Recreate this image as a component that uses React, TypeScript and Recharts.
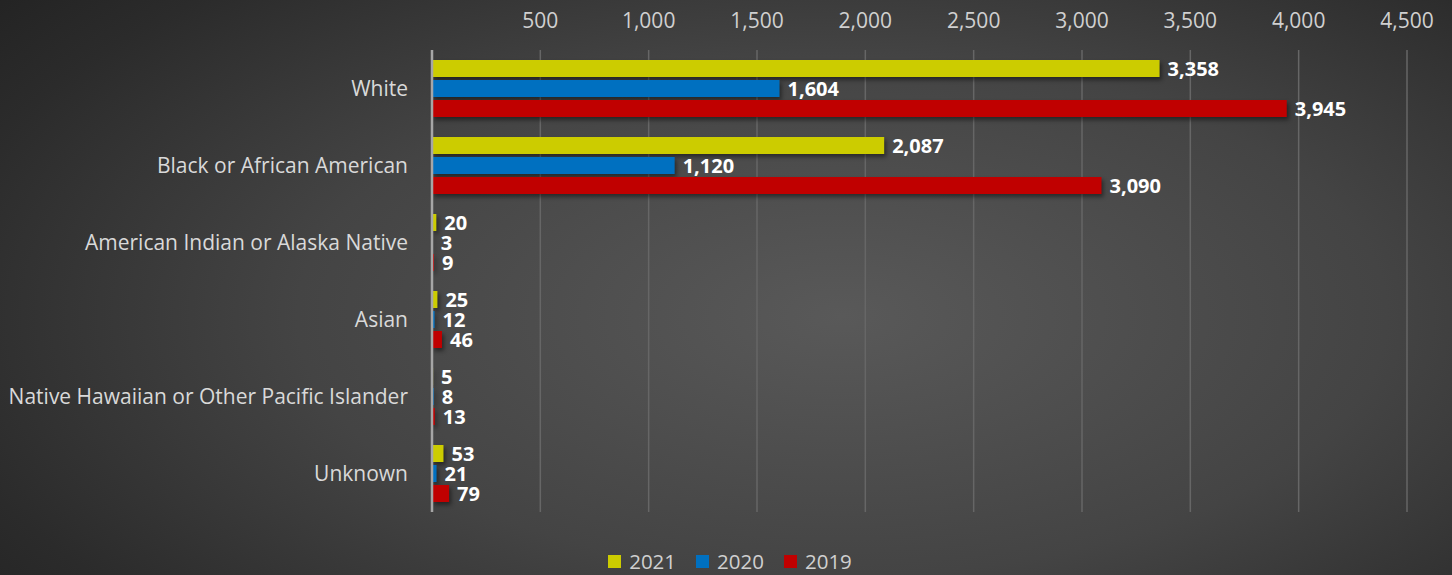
import React from "react";
import {
  BarChart,
  Bar,
  XAxis,
  YAxis,
  CartesianGrid,
  Legend,
  LabelList,
} from "recharts";

const categories = [
  "White",
  "Black or African American",
  "American Indian or Alaska Native",
  "Asian",
  "Native Hawaiian or Other Pacific Islander",
  "Unknown",
];
const y2021 = [3358, 2087, 20, 25, 5, 53];
const y2020 = [1604, 1120, 3, 12, 8, 21];
const y2019 = [3945, 3090, 9, 46, 13, 79];
const xTicks = [0, 500, 1000, 1500, 2000, 2500, 3000, 3500, 4000, 4500];

const series = [
  { key: "y2021", name: "2021", color: "#cccc00" },
  { key: "y2020", name: "2020", color: "#0070c0" },
  { key: "y2019", name: "2019", color: "#c00000" },
];

const data = categories.map((name, i) => ({
  name,
  y2021: y2021[i],
  y2020: y2020[i],
  y2019: y2019[i],
}));

const FONT = "'Open Sans', sans-serif";
const fmt = (v: any) => Number(v).toLocaleString("en-US");

const labelStyle = { fill: "#ffffff", fontWeight: 700, fontSize: 20, fontFamily: FONT };

function LegendContent() {
  return (
    <div style={{ display: "flex", justifyContent: "center", gap: 20, fontSize: 20.5, fontFamily: FONT, color: "#d0d0d0", paddingLeft: 8 }}>
      {series.map((s) => (
        <div key={s.key} style={{ display: "flex", alignItems: "center" }}>
          <span style={{ display: "inline-block", width: 13, height: 13, background: s.color, marginRight: 8 }} />
          <span>{s.name}</span>
        </div>
      ))}
    </div>
  );
}

export default function App() {
  return (
    <div
      style={{
        position: "absolute",
        left: 0,
        top: 0,
        width: 1452,
        height: 575,
        background:
          "radial-gradient(ellipse 75% 90% at 58% 55%, #595959 0%, #444444 50%, #2b2b2b 85%, #232323 100%)",
        fontFamily: FONT,
      }}
    >
      <style>{`.recharts-bar-rectangle path { filter: drop-shadow(2px 3px 2px rgba(0,0,0,0.45)); }`}</style>
      <BarChart
        width={1452}
        height={575}
        data={data}
        layout="vertical"
        margin={{ top: 0, right: 45, bottom: 35, left: 0 }}
        barSize={17}
        barGap={3}
      >
        <CartesianGrid horizontal={false} stroke="#666666" strokeWidth={1.5} />
        <XAxis
          type="number"
          orientation="top"
          domain={[0, 4500]}
          ticks={xTicks}
          height={50}
          axisLine={false}
          tickLine={false}
          tickSize={0}
          tickMargin={22}
          tickFormatter={(v: number) => (v === 0 ? "" : fmt(v))}
          tick={{ fill: "#d0d0d0", fontSize: 21, fontFamily: FONT }}
        />
        <YAxis
          type="category"
          dataKey="name"
          width={432}
          axisLine={{ stroke: "#a6a6a6", strokeWidth: 2.5 }}
          tickLine={false}
          tickSize={0}
          tickMargin={24}
          tick={{ fill: "#d9d9d9", fontSize: 21, fontFamily: FONT }}
        />
        <Legend
          verticalAlign="bottom"
          wrapperStyle={{ left: 0, width: 1452, bottom: 0 }}
          content={() => <LegendContent />}
        />
        {series.map((s) => (
          <Bar key={s.key} dataKey={s.key} name={s.name} fill={s.color} isAnimationActive={false}>
            <LabelList dataKey={s.key} position="right" offset={8} formatter={fmt} style={labelStyle} />
          </Bar>
        ))}
      </BarChart>
    </div>
  );
}
